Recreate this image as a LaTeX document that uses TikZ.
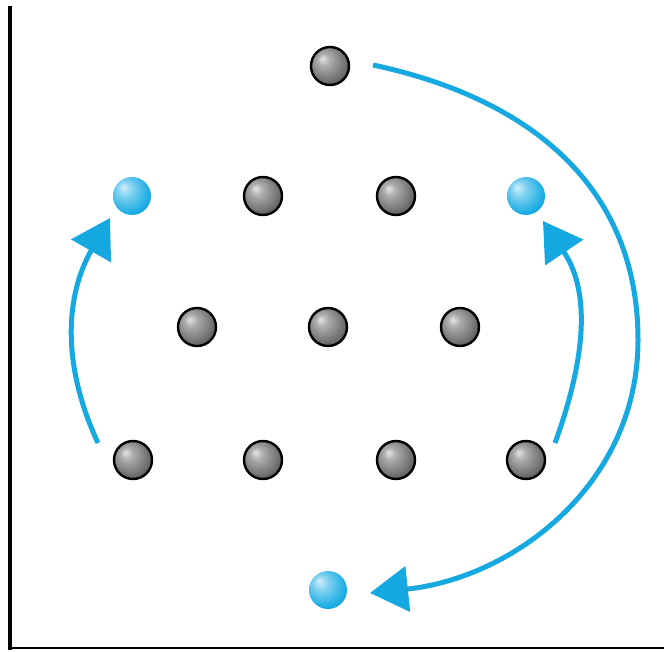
\documentclass[tikz,border=0pt]{standalone}
\usetikzlibrary{arrows.meta,calc}
\definecolor{cyanball}{RGB}{25,172,228}
\definecolor{arrowblue}{RGB}{22,168,224}
\pgfdeclareradialshading{gshade}{\pgfpoint{-10bp}{10bp}}{color(0bp)=(black!10); color(8bp)=(black!32); color(22bp)=(black!52); color(36bp)=(black!72); color(50bp)=(black!90)}
\pgfdeclareradialshading{bshade}{\pgfpoint{-12bp}{12bp}}{color(0bp)=(white!80!cyanball); color(10bp)=(cyanball!55!white); color(28bp)=(cyanball); color(50bp)=(cyanball!85!black)}
\tikzset{
  gball/.style={circle, minimum size=38pt, inner sep=0pt, draw=black, line width=2.4pt, shading=gshade},
  bball/.style={circle, minimum size=38pt, inner sep=0pt, shading=bshade},
  arr/.style={draw=arrowblue, line width=5pt, -{Triangle[length=38pt,width=45pt,fill=arrowblue]}},
  frameline/.style={draw=black}
}
\begin{document}
\begin{tikzpicture}[x=1pt,y=1pt]
\useasboundingbox (0,0) rectangle (664,651);
% frame
\coordinate (ftop) at (10,645);
\coordinate (fcorner) at (10,1.5);
\coordinate (fleft) at (8.25,3);
\coordinate (fright) at (664,3);
\draw[frameline, line width=3.5pt] (ftop) -- (fcorner);
\draw[frameline, line width=2.8pt] (fleft) -- (fright);
% balls
\node[gball] (t)   at (330,585) {};
\node[bball] (b1)  at (132,455) {};
\node[gball] (g21) at (263,455) {};
\node[gball] (g22) at (396,455) {};
\node[bball] (b2)  at (526,455) {};
\node[gball] (g31) at (197,324) {};
\node[gball] (g32) at (328,324) {};
\node[gball] (g33) at (460,324) {};
\node[gball] (g41) at (133,191) {};
\node[gball] (g42) at (263,191) {};
\node[gball] (g43) at (396,191) {};
\node[gball] (g44) at (526,191) {};
\node[bball] (b3)  at (328,61) {};
% arrows
\coordinate (mid) at (638,311);
\draw[arr] ($(g41)+(-35,17)$) to[out=115,in=-120] ($(b1)+(-22,-22)$);
\draw[arr] ($(g44)+(29,17)$) to[out=70,in=-56] ($(b2)+(17,-25)$);
\draw[arr] ($(t)+(43,1)$) to[out=-12,in=90,looseness=1.05] (mid) to[out=-90,in=6] ($(b3)+(42,-3)$);
\end{tikzpicture}
\end{document}
